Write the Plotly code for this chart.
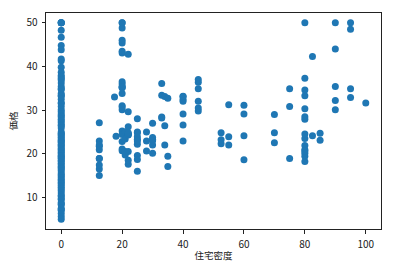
import plotly.graph_objects as go

# Residential density (ZN) categories and house prices (MEDV)
p_0 = [50.0, 50.0, 50.0, 50.0, 48.3, 46.7, 44.8, 43.8, 41.7, 41.3, 39.8, 38.7, 37.9, 37.6,
       37.2, 36.9, 36.2, 35.4, 34.9, 34.7, 33.8, 33.4, 33.2, 32.5, 31.7, 31.5, 30.8, 30.1,
       29.6, 29.1, 28.7, 28.4, 27.9, 27.5, 27.1, 26.6, 26.4, 25.9, 25.0, 24.7, 24.4, 24.1,
       23.8, 23.4, 23.1, 22.8, 22.6, 22.2, 21.9, 21.6, 21.2, 20.9, 20.6, 20.3, 20.0, 19.6,
       19.4, 19.1, 18.9, 18.5, 18.2, 17.8, 17.5, 17.1, 16.8, 16.5, 16.1, 15.6, 15.2, 14.9,
       14.5, 14.1, 13.8, 13.4, 13.1, 12.7, 12.3, 11.9, 11.5, 11.0, 10.5, 10.2, 9.7, 9.5,
       8.8, 8.5, 8.3, 7.5, 7.2, 7.0, 6.3, 5.6, 5.0]
p_12_5 = [22.9, 27.1, 16.5, 18.9, 15.0, 18.9, 21.7, 22.0, 17.4, 20.9]
p_17_5 = [33.0]
p_18 = [24.0]
p_20 = [50.0, 36.0, 30.1, 33.8, 43.1, 48.8, 31.0, 36.5, 22.8, 30.7, 50.0, 43.5, 20.7,
        21.1, 25.2, 24.4, 35.2, 35.1, 45.4, 35.4, 46.0]
p_21 = [19.7, 20.5, 25.0, 23.4]
p_22 = [17.6, 18.5, 24.3, 20.5, 24.5, 26.2, 24.4, 24.8, 29.6, 42.8]
p_25 = [23.3, 19.6, 18.7, 16.0, 22.2, 25.0, 28.0, 23.9, 24.8, 22.9]
p_28 = [22.9, 25.0, 20.6]
p_30 = [23.3, 27.0, 20.1, 22.0, 23.7, 23.0]
p_33 = [36.1, 28.4, 33.4, 28.2]
p_34 = [22.0, 26.4, 33.1]
p_35 = [32.7, 19.4, 17.1]
p_40 = [32.4, 32.0, 33.2, 33.1, 29.1, 26.6, 22.9]
p_45 = [32.0, 29.8, 34.9, 37.0, 30.5, 36.4]
p_52_5 = [23.2, 22.3, 24.8]
p_55 = [22.0, 23.9, 31.2]
p_60 = [31.1, 29.1, 24.1, 18.6]
p_70 = [22.5, 29.0, 24.8]
p_75 = [30.8, 34.9, 18.9]
p_80 = [23.5, 19.4, 50.0, 33.3, 30.3, 34.6, 21.9, 20.9, 20.1, 28.5, 37.3, 27.9, 24.5,
        18.2, 20.6]
p_82_5 = [24.1, 42.3]
p_85 = [24.7, 23.1]
p_90 = [35.4, 44.0, 50.0, 32.2, 30.1]
p_95 = [34.9, 32.9, 48.5, 50.0]
p_100 = [31.6]

groups = [(0, p_0), (12.5, p_12_5), (17.5, p_17_5), (18, p_18), (20, p_20), (21, p_21),
          (22, p_22), (25, p_25), (28, p_28), (30, p_30), (33, p_33), (34, p_34),
          (35, p_35), (40, p_40), (45, p_45), (52.5, p_52_5), (55, p_55), (60, p_60),
          (70, p_70), (75, p_75), (80, p_80), (82.5, p_82_5), (85, p_85), (90, p_90),
          (95, p_95), (100, p_100)]

x_vals, y_vals = [], []
for zn, prices in groups:
    for p in prices:
        x_vals.append(zn)
        y_vals.append(p)

x_ticks = [0, 20, 40, 60, 80, 100]
y_ticks = [10, 20, 30, 40, 50]

font_family = "Noto Sans CJK JP"

fig = go.Figure()
fig.add_trace(go.Scatter(
    x=x_vals, y=y_vals, mode="markers",
    marker=dict(color="#1f77b4", size=7, line=dict(width=0)),
    showlegend=False, hoverinfo="x+y",
))

axis_common = dict(
    showline=True, linecolor="#222222", linewidth=1, mirror=True,
    ticks="outside", ticklen=3.5, tickwidth=1, tickcolor="#222222",
    showgrid=False, zeroline=False, ticklabelstandoff=2, automargin=False,
    tickfont=dict(family=font_family, size=10, color="#222222"),
)

fig.update_layout(
    width=408, height=262,
    margin=dict(l=46, r=27, t=13, b=33),
    paper_bgcolor="white", plot_bgcolor="white",
    font=dict(family=font_family, size=10, color="#222222"),
    xaxis=dict(range=[-5, 105], tickvals=x_ticks,
               title=dict(text="住宅密度", font=dict(family=font_family, size=9.5), standoff=5),
               **axis_common),
    yaxis=dict(range=[2.75, 52.25], tickvals=y_ticks,
               title=dict(text="価格", font=dict(family=font_family, size=9.5), standoff=7),
               **axis_common),
)

fig.write_html("out.html")
